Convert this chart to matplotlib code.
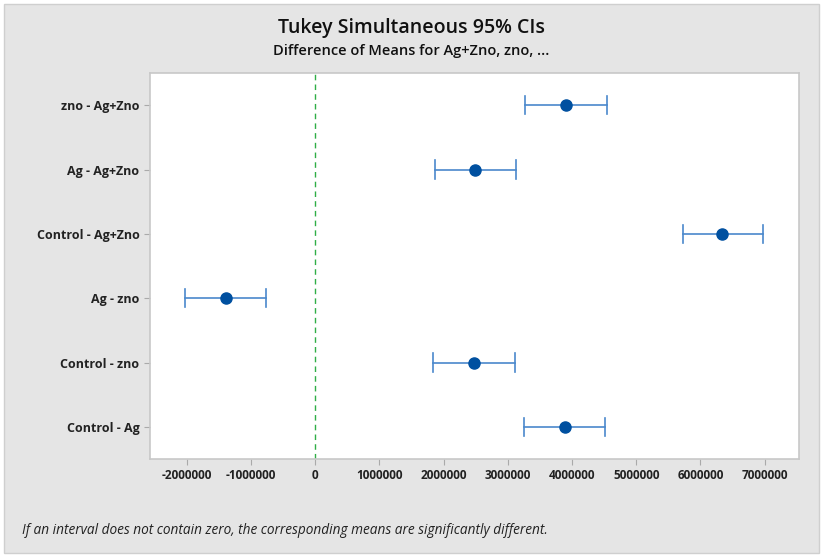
import matplotlib
matplotlib.use("Agg")
import matplotlib.pyplot as plt
from matplotlib.patches import Rectangle

labels = ["zno - Ag+Zno", "Ag - Ag+Zno", "Control - Ag+Zno", "Ag - zno", "Control - zno", "Control - Ag"]
centers = [3.90e6, 2.49e6, 6.34e6, -1.39e6, 2.47e6, 3.885e6]
lowers = [3.27e6, 1.865e6, 5.73e6, -2.03e6, 1.84e6, 3.25e6]
uppers = [4.54e6, 3.13e6, 6.97e6, -0.765e6, 3.11e6, 4.515e6]
xticks = [-2000000, -1000000, 0, 1000000, 2000000, 3000000, 4000000, 5000000, 6000000, 7000000]

fig = plt.figure(figsize=(8.23, 5.57), dpi=100)
fig.patch.set_facecolor("white")
bg = Rectangle((4/823, 4/557), 815/823, 549/557, transform=fig.transFigure,
               facecolor="#e5e5e5", edgecolor="#cfcfcf", linewidth=1, zorder=-10)
fig.add_artist(bg)

ax = fig.add_axes([150/823, 1-459/557, 649/823, 386/557])
ax.set_facecolor("white")

n = len(labels)
ypos = [n - i for i in range(n)]
for y, c, lo, hi in zip(ypos, centers, lowers, uppers):
    ax.plot([lo, hi], [y, y], color="#4a88cc", lw=1.2, zorder=2)
    ax.plot([lo, lo], [y - 0.14, y + 0.14], color="#4a88cc", lw=1.2, zorder=2)
    ax.plot([hi, hi], [y - 0.14, y + 0.14], color="#4a88cc", lw=1.2, zorder=2)
    ax.plot([c], [y], marker="o", ms=8, color="#0050a0", zorder=3, linestyle="none")

ax.axvline(0, color="#2fae46", lw=1, ls=(0, (4, 3)), zorder=1)

ax.set_xlim(-2.574e6, 7.536e6)
ax.set_ylim(0.5, 6.5)
ax.set_yticks(ypos)
ax.set_yticklabels(labels, fontsize=9, fontweight="bold", color="#222222", family="Open Sans")
ax.set_xticks(xticks)
ax.set_xticklabels([str(t) for t in xticks], fontsize=8.5, fontweight="bold", color="#222222", family="Open Sans")
ax.tick_params(axis="both", length=4, color="#aaaaaa", width=0.8)
for s in ax.spines.values():
    s.set_color("#c8c8c8")
    s.set_linewidth(1.2)

fig.text(0.5, 1-28/557, "Tukey Simultaneous 95% CIs", ha="center", va="center",
         fontsize=14, fontweight="semibold", family="Open Sans", color="#111111")
fig.text(0.5, 1-51/557, "Difference of Means for Ag+Zno, zno, ...", ha="center", va="center",
         fontsize=10.5, fontweight="semibold", family="Open Sans", color="#111111")
fig.text(22/823, 1-530/557, "If an interval does not contain zero, the corresponding means are significantly different.",
         ha="left", va="center", fontsize=9.8, style="italic", family="Open Sans", color="#222222")

fig.savefig("out.png", dpi=100, facecolor=fig.get_facecolor())
